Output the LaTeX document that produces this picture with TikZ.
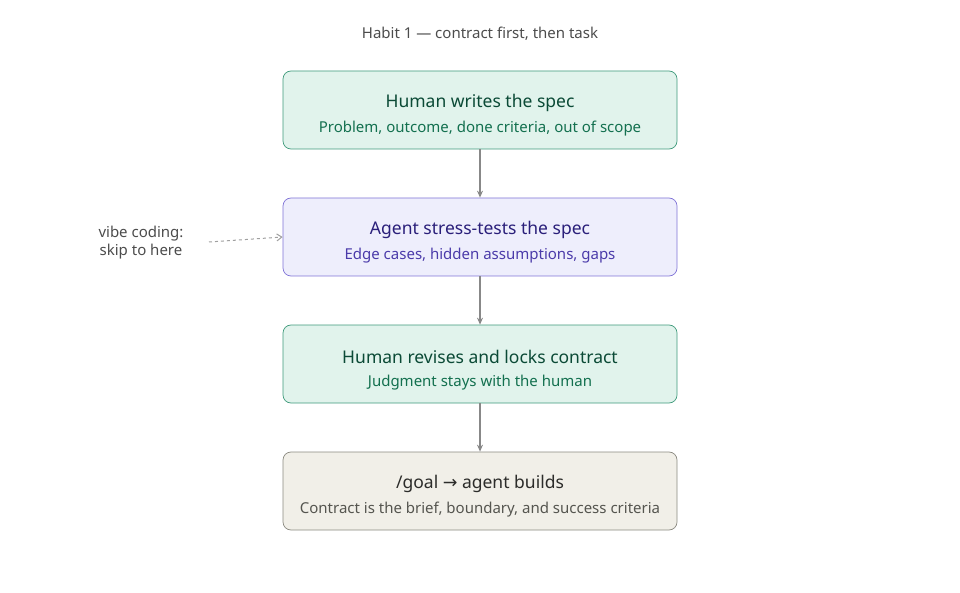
\documentclass[tikz,border=0pt]{standalone}
\usepackage{fontspec}
\setmainfont{Noto Sans}
\newfontfamily\symfont{DejaVu Sans}
\usetikzlibrary{arrows.meta}
\definecolor{gfill}{HTML}{E1F3EC}\definecolor{gdraw}{HTML}{3F9A7B}
\definecolor{gtitle}{HTML}{0B4A36}\definecolor{gsub}{HTML}{13704F}
\definecolor{pfill}{HTML}{EEEEFC}\definecolor{pdraw}{HTML}{7F72D6}
\definecolor{ptitle}{HTML}{2A1F7A}\definecolor{psub}{HTML}{4B3BAA}
\definecolor{bfill}{HTML}{F1EFE8}\definecolor{bdraw}{HTML}{8A8980}
\definecolor{btitle}{HTML}{2C2C2A}\definecolor{bsub}{HTML}{55554F}
\definecolor{arr}{HTML}{888888}
\begin{document}
\begin{tikzpicture}[x=1pt,y=-1pt,
 box/.style={rounded corners=8pt,minimum width=394pt,minimum height=78pt,line width=0.7pt,align=center,inner sep=0pt},
 gbox/.style={box,fill=gfill,draw=gdraw},
 pbox/.style={box,fill=pfill,draw=pdraw},
 bbox/.style={box,fill=bfill,draw=bdraw},
 ttl/.style={font=\fontsize{17.5}{21}\selectfont\bfseries},
 sub/.style={font=\fontsize{15}{18}\selectfont},
 conn/.style={draw=arr,line width=1.3pt,-{Stealth[length=7pt,width=6pt]}}]
\useasboundingbox (0,0) rectangle (960,593);
\node[font=\fontsize{15}{18}\selectfont,text=black!70] (title) at (480,34) {Habit 1 — contract first, then task};
\node[gbox] (b1) at (480,110) {};
\node[ttl,text=gtitle] (t1) at (480,103) {Human writes the spec};
\node[sub,text=gsub] (s1) at (480,129) {Problem, outcome, done criteria, out of scope};
\node[pbox] (b2) at (480,237) {};
\node[ttl,text=ptitle] (t2) at (480,230) {Agent stress-tests the spec};
\node[sub,text=psub] (s2) at (480,256) {Edge cases, hidden assumptions, gaps};
\node[gbox] (b3) at (480,364) {};
\node[ttl,text=gtitle] (t3) at (480,357) {Human revises and locks contract};
\node[sub,text=gsub] (s3) at (480,383) {Judgment stays with the human};
\node[bbox] (b4) at (480,491) {};
\node[ttl,text=btitle] (t4) at (480,484) {/goal {\symfont\mdseries→} agent builds};
\node[sub,text=bsub] (s4) at (480,510) {Contract is the brief, boundary, and success criteria};
\node[sub,text=black!70,align=center] (vc) at (141,243) {vibe coding:\\skip to here};
\coordinate (vcend) at (209,242);
\draw[conn] (b1) -- (b2);
\draw[conn] (b2) -- (b3);
\draw[conn] (b3) -- (b4);
\draw[draw=arr!80,line width=1pt,dashed,-{Straight Barb[length=5pt,width=7pt]}] (vcend) -- (b2.west);
\end{tikzpicture}
\end{document}
